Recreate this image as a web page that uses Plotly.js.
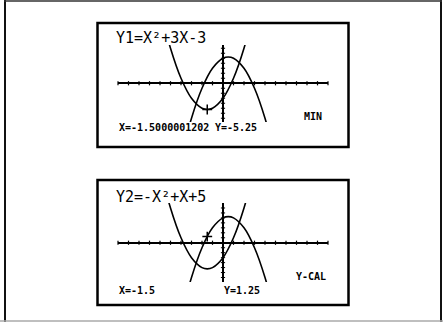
<!DOCTYPE html>
<html>
<head>
<meta charset="utf-8">
<script src="https://cdn.plot.ly/plotly-3.0.1.min.js"></script>
<style>
  html, body { margin: 0; padding: 0; background: #ffffff; }
  #chart { width: 443px; height: 322px; }
</style>
</head>
<body>
<div id="chart"></div>
<script>
// ---- data (read from the calculator screens) ----
var y1X = [-7, -6, -5, -4, -3, -2, -1.5, -1, 0, 1, 2, 3];
var y1Y = [25, 15, 7, 1, -3, -5, -5.25, -5, -3, 1, 7, 15];
var y2X = [-5, -4, -3, -2, -1, 0, 0.5, 1, 2, 3, 4, 5, 6];
var y2Y = [-25, -15, -7, -1, 3, 5, 5.25, 5, 3, -1, -7, -15, -25];
var xTickVals = [-10, -9, -8, -7, -6, -5, -4, -3, -2, -1, 1, 2, 3, 4, 5, 6, 7, 8, 9, 10];
var yTickVals = [-7, -6, -5, -4, -3, -2, -1, 1, 2, 3, 4, 5, 6, 7];
var cursor1X = [-1.5], cursor1Y = [-5.25];
var cursor2X = [-1.5], cursor2Y = [1.25];
var title1 = "Y1=X²+3X-3";
var title2 = "Y2=-X²+X+5";
var coordX1 = "X=-1.5000001202", coordY1 = "Y=-5.25", mode1 = "MIN";
var coordX2 = "X=-1.5", coordY2 = "Y=1.25", mode2 = "Y-CAL";

// ---- layout helpers (pixel -> paper) ----
var W = 443, H = 322;
function px(x) { return x / W; }
function py(y) { return 1 - y / H; }

var lineStyle = { color: "#000000", width: 1.6, shape: "spline", smoothing: 1 };

function panelTraces(xa, ya, cx, cy) {
  return [
    { x: y1X, y: y1Y, xaxis: xa, yaxis: ya, mode: "lines", line: lineStyle, hoverinfo: "skip" },
    { x: y2X, y: y2Y, xaxis: xa, yaxis: ya, mode: "lines", line: lineStyle, hoverinfo: "skip" },
    { x: xTickVals, y: xTickVals.map(function () { return 0; }), xaxis: xa, yaxis: ya, mode: "markers",
      marker: { symbol: "line-ns", size: 3, line: { color: "#000", width: 1.2 } }, hoverinfo: "skip", cliponaxis: false },
    { x: yTickVals.map(function () { return 0; }), y: yTickVals, xaxis: xa, yaxis: ya, mode: "markers",
      marker: { symbol: "line-ew", size: 3, line: { color: "#000", width: 1 } }, hoverinfo: "skip", cliponaxis: false },
    { x: cx, y: cy, xaxis: xa, yaxis: ya, mode: "markers",
      marker: { symbol: "cross-thin", size: 7, line: { color: "#000", width: 1.5 } }, hoverinfo: "skip", cliponaxis: false }
  ];
}

var data = [].concat(panelTraces("x", "y", cursor1X, cursor1Y), panelTraces("x2", "y2", cursor2X, cursor2Y));

function axisX(anchor) {
  return { domain: [px(118), px(328)], range: [-10, 10], anchor: anchor,
    showgrid: false, showline: false, showticklabels: false, ticks: "",
    zeroline: true, zerolinecolor: "#000", zerolinewidth: 1.6, fixedrange: true };
}
function axisY(anchor, top, bottom, range) {
  return { domain: [py(bottom), py(top)], range: range, anchor: anchor,
    showgrid: false, showline: false, showticklabels: false, ticks: "",
    zeroline: true, zerolinecolor: "#000", zerolinewidth: 1.6, fixedrange: true };
}

var bigFont = { family: "DejaVu Sans Mono", size: 15, color: "#000" };
var smallFont = { family: "DejaVu Sans Mono", size: 10, color: "#000", weight: "bold" };

function ann(text, x, y, font) {
  return { text: text, xref: "paper", yref: "paper", x: px(x), y: py(y),
    xanchor: "left", yanchor: "middle", showarrow: false, font: font };
}

var shapes = [
  // outer frame
  { type: "line", xref: "paper", yref: "paper", x0: px(5), x1: px(5), y0: py(0), y1: py(322), line: { color: "#111", width: 2 } },
  { type: "line", xref: "paper", yref: "paper", x0: px(441), x1: px(441), y0: py(0), y1: py(322), line: { color: "#111", width: 2 } },
  { type: "line", xref: "paper", yref: "paper", x0: px(4), x1: px(442), y0: py(1), y1: py(1), line: { color: "#333", width: 1.6 } },
  { type: "line", xref: "paper", yref: "paper", x0: px(0), x1: px(443), y0: py(321), y1: py(321), line: { color: "#aaa", width: 1.6 } },
  // screen boxes
  { type: "rect", xref: "paper", yref: "paper", x0: px(97.5), x1: px(348.5), y0: py(23), y1: py(147), line: { color: "#000", width: 2.5 } },
  { type: "rect", xref: "paper", yref: "paper", x0: px(97.5), x1: px(348.5), y0: py(180), y1: py(305), line: { color: "#000", width: 2.5 } }
];

var annotations = [
  ann(title1, 114, 38, bigFont),
  ann(coordX1, 117, 127, smallFont),
  ann(coordY1, 213, 127, smallFont),
  ann(mode1, 302, 117, smallFont),
  ann(title2, 114, 197, bigFont),
  ann(coordX2, 117, 290, smallFont),
  ann(coordY2, 222, 290, smallFont),
  ann(mode2, 294, 276.5, smallFont)
];

var layout = {
  width: W, height: H,
  margin: { l: 0, r: 0, t: 0, b: 0, pad: 0 },
  paper_bgcolor: "#ffffff", plot_bgcolor: "rgba(0,0,0,0)",
  showlegend: false,
  xaxis: axisX("y"),
  yaxis: axisY("x", 45, 122, [-7.75, 7.65]),
  xaxis2: axisX("y2"),
  yaxis2: axisY("x2", 203, 282, [-7.9, 8.0]),
  shapes: shapes,
  annotations: annotations
};

Plotly.newPlot("chart", data, layout, { staticPlot: true, displayModeBar: false });
</script>
</body>
</html>
